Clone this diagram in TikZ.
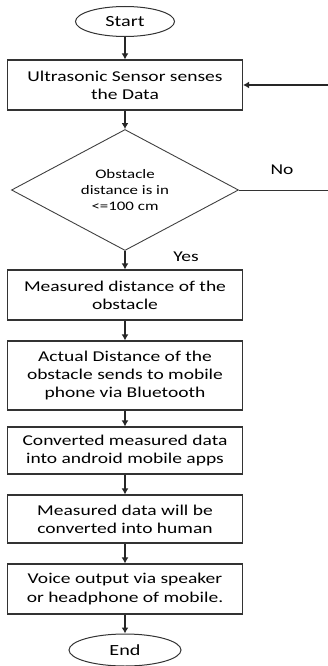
\documentclass[tikz,border=0pt]{standalone}
\usepackage{fontspec}
\setmainfont[FakeStretch=1.3]{Carlito}
\usetikzlibrary{shapes.geometric,arrows.meta}

\begin{document}
\begin{tikzpicture}[x=1pt,y=-1pt,>={Latex[length=6pt,width=7pt]},
                    blk/.style={draw=black!80,line width=1.2pt,rectangle,minimum width=235pt,minimum height=#1,align=center,inner sep=2pt,font=\fontsize{15}{18.3}\selectfont},
                    blk/.default=50pt,
                    term/.style={draw=black!80,ellipse,line width=1pt,minimum width=#1,minimum height=30pt,inner sep=0pt,font=\fontsize{15.5}{18}\selectfont},
                    cond/.style={draw=black!75,diamond,line width=0.9pt,shape aspect=1.86,minimum width=227pt,minimum height=121pt,align=center,inner sep=0pt,font=\fontsize{13}{15.8}\selectfont},
                    flow/.style={->,line width=1.6pt,draw=black!85}]
                      \useasboundingbox (0,0) rectangle (328,666);

                      \node[term=99pt] (start) at (125,21.5) {Start};
                      \node[blk] (sense) at (125,85) {Ultrasonic Sensor senses\\the Data};
                      \node[cond] (dec) at (125,190) {Obstacle\\distance is in\\<=100 cm};
                      \node[blk] (meas) at (125,295) {Measured distance of the\\obstacle};
                      \node[blk=69pt] (send) at (125,375.5) {Actual Distance of the\\obstacle sends to mobile\\phone via Bluetooth};
                      \node[blk=47pt] (conv) at (125,450.5) {Converted measured data\\into android mobile apps};
                      \node[blk=48pt] (human) at (125,519) {Measured data will be\\converted into human};
                      \node[blk] (voice) at (125,589) {Voice output via speaker\\or headphone of mobile.};
                      \node[term=112pt,minimum height=32pt] (stop) at (125,650) {End};

                      \coordinate (back) at (332,190);

                      \draw[flow] (start) -- (sense);
                      \draw[flow] (sense) -- (dec);
                      \draw[flow] (dec) -- (meas);
                      \draw[flow] (meas) -- (send);
                      \draw[flow] (send) -- (conv);
                      \draw[flow] (conv) -- (human);
                      \draw[flow] (human) -- (voice);
                      \draw[flow] (voice) -- (stop);
                      \draw[line width=1pt,draw=black!80] (dec.east) -- (dec.east -| back) -- (back |- sense.east);
                      \draw[flow,line width=1.2pt] (back |- sense.east) -- (sense.east);

                      \node[font=\fontsize{15}{18}\selectfont] (no) at (282,170) {No};
                      \node[font=\fontsize{15}{18}\selectfont] (yes) at (186,257) {Yes};
                    \end{tikzpicture}
\end{document}
